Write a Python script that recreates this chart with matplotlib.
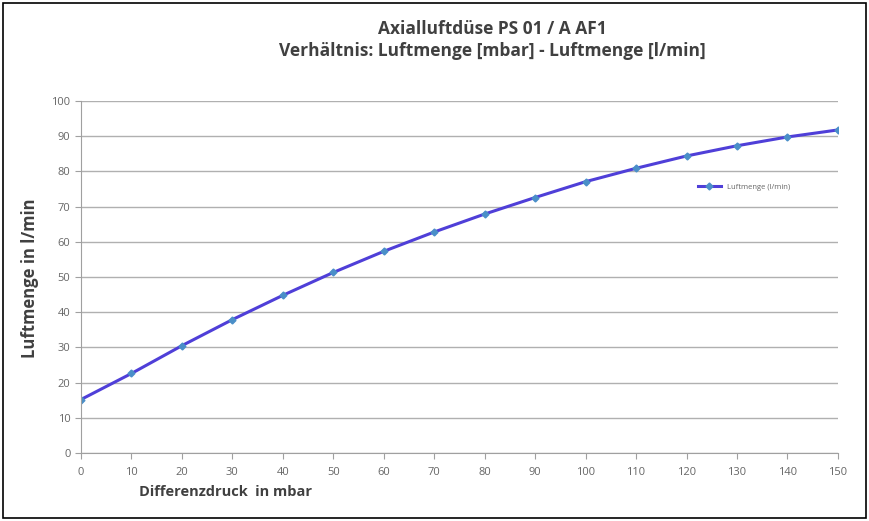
import matplotlib
matplotlib.use("Agg")
from matplotlib import pyplot as plt
from matplotlib.patches import Rectangle

# Daten
differenzdruck = [0, 10, 20, 30, 40, 50, 60, 70, 80, 90, 100, 110, 120, 130, 140, 150]
luftmenge = [15.2, 22.6, 30.5, 37.9, 44.8, 51.3, 57.3, 62.8, 67.9, 72.6, 77.1, 80.9, 84.4, 87.3, 89.8, 91.8]
x_ticks = list(range(0, 151, 10))
y_ticks = list(range(0, 101, 10))

plt.rcParams['font.family'] = ['Open Sans', 'DejaVu Sans']

fig = plt.figure(figsize=(8.69, 5.21), dpi=100)
ax = fig.add_axes([0.0932, 0.1305, 0.871, 0.6755])

ax.plot(differenzdruck, luftmenge, color="#4f3fd8", linewidth=2.2,
        marker="D", markersize=3.5, markerfacecolor="#4a8fc8",
        markeredgecolor="#4a8fc8", label="Luftmenge (l/min)")

ax.set_xlim(0, 150)
ax.set_ylim(0, 100)
ax.set_xticks(x_ticks)
ax.set_yticks(y_ticks)
ax.yaxis.grid(True, color="#b0b0b0", linewidth=1)
ax.set_axisbelow(True)
for s in ("top", "right"):
    ax.spines[s].set_visible(False)
for s in ("left", "bottom"):
    ax.spines[s].set_color("#a0a0a0")
ax.tick_params(direction="out", length=4, color="#a0a0a0", labelcolor="#666666", labelsize=8)
ax.tick_params(axis="x", pad=6)

leg = ax.legend(loc="center left", bbox_to_anchor=(0.815, 0.756), frameon=False,
                fontsize=5.5, handlelength=3, labelcolor="#666666",
                borderaxespad=0, borderpad=0)

fig.text(0.567, 0.945, "Axialluftdüse PS 01 / A AF1", ha="center", va="center",
         fontsize=12.5, fontweight="bold", color="#404040")
fig.text(0.567, 0.903, "Verhältnis: Luftmenge [mbar] - Luftmenge [l/min]", ha="center", va="center",
         fontsize=12.5, fontweight="bold", color="#404040")
fig.text(0.26, 0.055, "Differenzdruck  in mbar", ha="center", va="center",
         fontsize=10.5, fontweight="bold", color="#404040")
fig.text(0.034, 0.466, "Luftmenge in l/min", ha="center", va="center", rotation=90,
         fontsize=12, fontweight="bold", color="#404040")

# Rahmen um die ganze Grafik
fig.patches.append(Rectangle((0.004, 0.006), 0.992, 0.988, transform=fig.transFigure,
                             fill=False, edgecolor="black", linewidth=1.2))

plt.savefig("out.png", dpi=100)
